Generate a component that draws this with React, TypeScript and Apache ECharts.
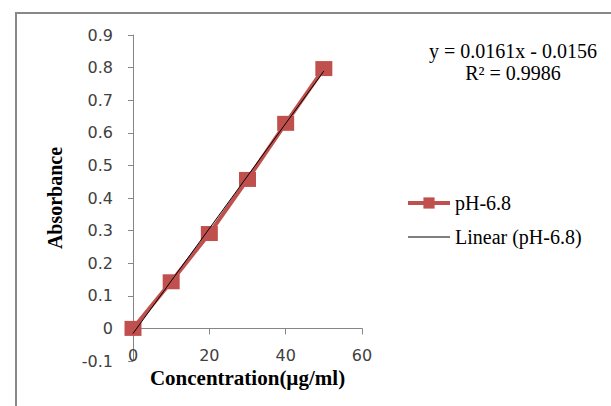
import React, { useEffect, useRef } from "react";
import * as echarts from "echarts";

const concentrations = [0, 10, 20, 30, 40, 50];
const absorbance = [0, 0.143, 0.291, 0.457, 0.629, 0.797];
const trendX = [0, 50];
const trendY = [-0.0156, 0.7894];
const seriesName = "pH-6.8";
const trendName = "Linear (pH-6.8)";
const equationLines = ["y = 0.0161x - 0.0156", "R² = 0.9986"];

export default function App() {
  const ref = useRef<HTMLDivElement>(null);
  useEffect(() => {
    if (!ref.current) return;
    const chart = echarts.init(ref.current, undefined, { renderer: "svg" });
    const serif = "'Liberation Serif', 'Times New Roman', serif";
    const sans = "'DejaVu Sans', sans-serif";
    chart.setOption({
      animation: false,
      backgroundColor: "#ffffff",
      grid: { left: 133, top: 35, width: 229, height: 326, outerBoundsMode: "none", containLabel: false },
      legend: {
        orient: "vertical",
        left: 401,
        top: 188,
        itemWidth: 42,
        itemHeight: 14,
        itemGap: 14,
        textStyle: { fontFamily: serif, fontSize: 20, color: "#000" },
        data: [
          { name: seriesName, lineStyle: { width: 4 } },
          { name: trendName, itemStyle: { opacity: 0 }, lineStyle: { width: 1 } },
        ],
      },
      xAxis: {
        type: "value",
        min: 0,
        max: 60,
        interval: 20,
        name: "Concentration(µg/ml)",
        nameLocation: "middle",
        nameGap: 6,
        nameTextStyle: { fontFamily: serif, fontSize: 21, fontWeight: "bold", color: "#000" },
        axisLine: { onZero: true, lineStyle: { color: "#868686", width: 1 } },
        axisTick: { show: true, length: 6, lineStyle: { color: "#868686" } },
        axisLabel: { margin: -14, fontFamily: sans, fontSize: 16, color: "#404040" },
        splitLine: { show: false },
      },
      yAxis: {
        type: "value",
        min: -0.1,
        max: 0.9,
        interval: 0.1,
        name: "Absorbance",
        nameLocation: "middle",
        nameGap: 68,
        nameRotate: 90,
        nameTextStyle: { fontFamily: serif, fontSize: 20, fontWeight: "bold", color: "#000" },
        axisLine: { show: true, lineStyle: { color: "#868686", width: 1 } },
        axisTick: { show: true, length: 5, lineStyle: { color: "#868686" } },
        axisLabel: {
          margin: 20,
          fontFamily: sans,
          fontSize: 16,
          color: "#404040",
          formatter: (v: number) => String(Math.round(v * 10) / 10),
        },
        splitLine: { show: false },
      },
      series: [
        {
          name: seriesName,
          type: "line",
          data: concentrations.map((x, i) => [x, absorbance[i]]),
          symbol: "rect",
          symbolSize: [17, 15],
          lineStyle: { color: "#C0504D", width: 4 },
          itemStyle: { color: "#C0504D" },
          z: 2,
        },
        {
          name: trendName,
          type: "line",
          data: trendX.map((x, i) => [x, trendY[i]]),
          symbol: "none",
          lineStyle: { color: "#000", width: 1 },
          itemStyle: { color: "#000" },
          z: 3,
        },
      ],
      graphic: [
        {
          type: "rect",
          shape: { x: 16, y: 13, width: 800, height: 600 },
          style: { fill: "none", stroke: "#888888", lineWidth: 2 },
          silent: true,
        },
        {
          type: "text",
          x: 513,
          y: 51,
          style: {
            text: equationLines[0],
            fontFamily: serif,
            fontSize: 20,
            fill: "#000",
            textAlign: "center",
            textVerticalAlign: "middle",
          },
        },
        {
          type: "text",
          x: 513,
          y: 73,
          style: {
            text: equationLines[1],
            fontFamily: serif,
            fontSize: 20,
            fill: "#000",
            textAlign: "center",
            textVerticalAlign: "middle",
          },
        },
      ],
    });
    return () => chart.dispose();
  }, []);
  return (
    <div
      ref={ref}
      style={{ position: "fixed", left: 0, top: 0, width: 611, height: 406 }}
    />
  );
}
